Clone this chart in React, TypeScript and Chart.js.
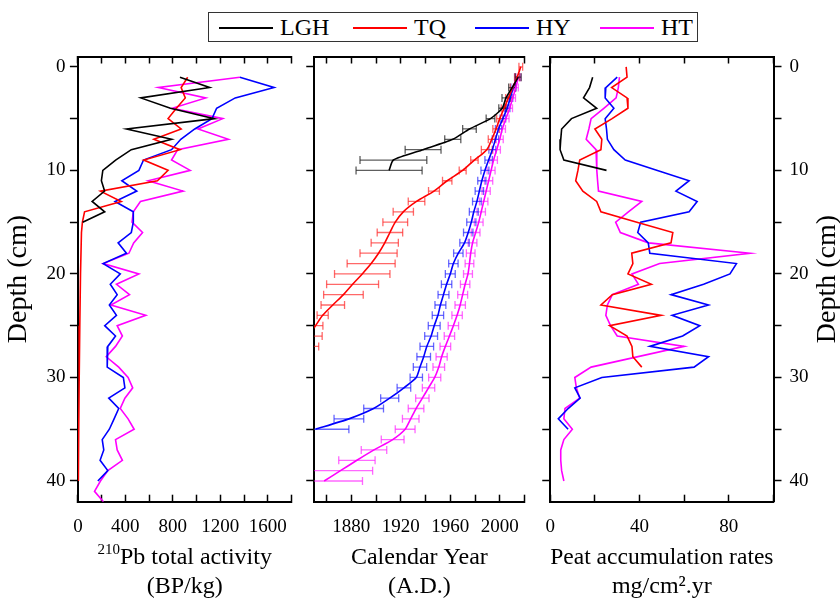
import React, { useEffect, useRef } from 'react';
import { Chart, registerables } from 'chart.js';

Chart.register(...registerables);
const FONT_FAMILY = '"Liberation Serif", "Times New Roman", serif';
Chart.defaults.font.family = FONT_FAMILY;
Chart.defaults.color = '#000';

// ---------- series ----------
const SERIES_NAMES = ['LGH', 'TQ', 'HY', 'HT'];
const SERIES_COLORS = ['#000000', '#ff0000', '#0000ff', '#ff00ff'];
const ERROR_COLORS = ['rgba(40,40,40,0.75)', 'rgba(255,40,40,0.7)', 'rgba(40,40,255,0.7)', 'rgba(255,40,255,0.7)'];

// ---------- depth axis ----------
const DEPTH_MIN = -1;
const DEPTH_MAX = 42;
const DEPTH_TICKS = [0, 5, 10, 15, 20, 25, 30, 35, 40];
const DEPTH_LABELS = [0, 10, 20, 30, 40];
const DEPTH_TITLE = 'Depth (cm)';

// ---------- panel 1 : 210Pb total activity ----------
const PB_MIN = 0;
const PB_MAX = 1800;
const PB_TICKS = [0, 200, 400, 600, 800, 1000, 1200, 1400, 1600, 1800];
const PB_LABELS = [0, 400, 800, 1200, 1600];
const PB_TITLE_SUP = '210';
const PB_TITLE_MAIN = 'Pb total activity';
const PB_TITLE_UNIT = '(BP/kg)';

const PB_LGH_DEPTH = [1, 2, 3, 4, 5, 6, 7, 8, 9, 10, 11, 12, 13, 14, 15];
const PB_LGH = [860, 1110, 530, 780, 1150, 410, 790, 450, 318, 210, 198, 225, 120, 226, 40];
const PB_TQ_DEPTH = [1, 2, 3, 4, 5, 6, 7, 8, 9, 10, 11, 12, 13, 14, 15, 16, 20, 25, 30, 35, 40];
const PB_TQ = [925, 870, 905, 830, 760, 870, 640, 860, 555, 760, 670, 190, 365, 56, 38, 30, 22, 16, 11, 7, 4];
const PB_HY_DEPTH = [1, 2, 3, 4, 5, 6, 7, 8, 9, 10, 11, 12, 13, 14, 15, 16, 17, 18, 19, 20, 21, 22, 23, 24, 25, 26, 27, 28, 29, 30, 31, 32, 33, 34, 35, 36, 37, 38, 39, 40];
const PB_HY = [1365, 1653, 1326, 1169, 1130, 985, 867, 789, 553, 514, 370, 496, 313, 467, 467, 450, 339, 409, 213, 357, 273, 331, 265, 325, 226, 317, 252, 247, 247, 383, 396, 260, 344, 305, 265, 205, 218, 187, 252, 168];
const PB_HT_DEPTH = [1, 2, 3, 4, 5, 6, 7, 8, 9, 10, 11, 12, 13, 14, 15, 16, 17, 18, 19, 20, 21, 22, 23, 24, 25, 26, 27, 28, 29, 30, 31, 32, 33, 34, 35, 36, 37, 38, 39, 40, 41, 42];
const PB_HT = [1365, 679, 1077, 794, 1221, 1012, 1268, 841, 789, 946, 592, 886, 527, 467, 456, 545, 470, 430, 213, 514, 325, 435, 278, 572, 331, 375, 317, 239, 344, 423, 462, 396, 357, 423, 474, 317, 331, 375, 252, 190, 140, 215];

// ---------- panel 2 : calendar year ----------
const YR_MIN = 1850;
const YR_MAX = 2020;
const YR_TICKS = [1860, 1880, 1900, 1920, 1940, 1960, 1980, 2000, 2020];
const YR_LABELS = [1880, 1920, 1960, 2000];
const YR_TITLE = ['Calendar Year', '(A.D.)'];

const YR_LGH_DEPTH = [1, 2, 3, 4, 5, 6, 7, 8, 9, 10];
const YR_LGH = [2015, 2010, 2005, 2002, 1992.5, 1975.5, 1962, 1938, 1914, 1910.5];
const YR_LGH_ERR = [2.3, 2.8, 3.2, 2.8, 3.5, 5.5, 6.5, 14.5, 27, 26.7];
const YR_TQ_DEPTH = [0, 1, 2, 3, 4, 5, 6, 7, 8, 9, 10, 11, 12, 13, 14, 15, 16, 17, 18, 19, 20, 21, 22, 23, 24, 25, 26, 27];
const YR_TQ = [2017, 2014, 2010.5, 2007, 2003.5, 2000, 1997, 1993.5, 1989.5, 1979.5, 1970, 1957.5, 1946.8, 1932.7, 1922, 1915.5, 1911.2, 1907, 1902, 1896, 1888.8, 1881, 1873.6, 1865, 1856.8, 1851, 1845, 1840];
const YR_TQ_ERR = [1.5, 2, 2, 2.2, 2.3, 2.5, 2.6, 2.8, 4.4, 3, 2.8, 3.8, 4.4, 6.7, 8.2, 10, 10.3, 11, 15, 19.4, 22.4, 21, 16, 9.5, 4.5, 6, 11.4, 13.6];
const YR_HY_DEPTH = [1, 2, 3, 4, 5, 6, 7, 8, 9, 10, 11, 12, 13, 14, 15, 16, 17, 18, 19, 20, 21, 22, 23, 24, 25, 26, 27, 28, 29, 30, 31, 32, 33, 34, 35];
const YR_HY = [2014, 2011, 2008.5, 2006, 2002.5, 1999, 1996.5, 1994, 1991, 1988, 1985.5, 1983.5, 1981.5, 1979, 1977, 1974.5, 1971.5, 1966.5, 1962.5, 1960, 1957, 1954.5, 1952, 1950, 1947, 1944.5, 1941, 1938.5, 1935.5, 1932.5, 1922.5, 1911, 1898, 1878, 1851];
const YR_HY_ERR = [2, 2, 2, 2.2, 2.3, 2.5, 2.6, 2.8, 3, 3.2, 3.3, 3.4, 3.5, 3.6, 3.7, 3.8, 3.8, 3.8, 3.8, 4, 4.2, 4.4, 4.4, 4.6, 4.8, 5.2, 5.5, 5.5, 5.4, 5, 5.5, 7.3, 8, 12, 27];
const YR_HT_DEPTH = [1, 2, 3, 4, 5, 6, 7, 8, 9, 10, 11, 12, 13, 14, 15, 16, 17, 18, 19, 20, 21, 22, 23, 24, 25, 26, 27, 28, 29, 30, 31, 32, 33, 34, 35, 36, 37, 38, 39, 40];
const YR_HT = [2015, 2013, 2010.5, 2008, 2005, 2002, 2000, 1997.5, 1995, 1993, 1991, 1989, 1987, 1985, 1983, 1980.5, 1978, 1976.5, 1975.5, 1974.3, 1972, 1970, 1968, 1965.5, 1962.5, 1959.3, 1956, 1953, 1950.7, 1947.4, 1942.4, 1937.4, 1932.3, 1928, 1923.5, 1913.4, 1898.3, 1884.5, 1871.2, 1858];
const YR_HT_ERR = [2, 2, 2.2, 2.3, 2.5, 2.6, 2.8, 3, 3.1, 3.2, 3.3, 3.3, 3.4, 3.4, 3.5, 3.5, 3.5, 3.5, 3.5, 3.6, 3.8, 4, 4.2, 4.2, 4.2, 4.2, 4.3, 4.5, 4.7, 4.9, 5, 5.4, 6.3, 6.7, 8, 9.2, 10.3, 14.7, 26, 31];

// ---------- panel 3 : peat accumulation rates ----------
const RATE_MIN = 0;
const RATE_MAX = 100;
const RATE_TICKS = [0, 20, 40, 60, 80, 100];
const RATE_LABELS = [0, 40, 80];
const RATE_TITLE = ['Peat accumulation rates', 'mg/cm\u00B2.yr'];

const RATE_LGH_DEPTH = [1, 2, 3, 4, 5, 6, 7, 8, 9, 10];
const RATE_LGH = [19, 17.6, 14.9, 20.8, 9.5, 5.1, 4.7, 4.4, 6.1, 25.2];
const RATE_TQ_DEPTH = [0, 1, 2, 3, 4, 5, 6, 7, 8, 9, 10, 11, 12, 13, 14, 15, 16, 17, 18, 19, 20, 21, 22, 23, 24, 25, 26, 27, 28, 29];
const RATE_TQ = [34, 34.4, 27.5, 34.4, 34.8, 27.7, 20, 23.1, 22.7, 13.2, 12.4, 11.4, 14.6, 20.8, 22.7, 38.8, 54.9, 54.1, 36.5, 37, 34.8, 45.3, 27.8, 22.7, 49.7, 26.6, 34.4, 36.6, 37, 41];
const RATE_HY_DEPTH = [1, 2, 3, 4, 5, 6, 7, 8, 9, 10, 11, 12, 13, 14, 15, 16, 17, 18, 19, 20, 21, 22, 23, 24, 25, 26, 27, 28, 29, 30, 31, 32, 33, 34, 35];
const RATE_HY = [30, 24.9, 24.6, 28.5, 24.6, 25.2, 25.6, 28.5, 33.6, 48, 62.2, 56.3, 65.8, 62.2, 40.5, 39.2, 43.9, 44.6, 83.4, 80.5, 68.7, 54.1, 70.9, 54.6, 67, 59.3, 44.6, 70.9, 64.4, 23.1, 11, 13.4, 8, 3.6, 8];
const RATE_HT_DEPTH = [1, 2, 3, 4, 5, 6, 7, 8, 9, 10, 11, 12, 13, 14, 15, 16, 17, 18, 19, 20, 21, 22, 23, 24, 25, 26, 27, 29, 30, 31, 32, 33, 34, 35, 36, 37, 38, 39, 40];
const RATE_HT = [31, 30.5, 29.5, 24, 18.3, 17.3, 16.1, 20.5, 20.8, 20.9, 21.2, 21.6, 41, 35, 29.3, 31.4, 44, 89.5, 49, 36.6, 39.5, 27.8, 25.6, 24.9, 27, 30, 60, 18.3, 11, 11.7, 13.2, 6.6, 6.1, 9.9, 6.1, 4.7, 4.7, 5.1, 6.1];

// ---------- layout (pixels) ----------
const CANVAS_H = 601;
const PLOT_TOP = 56.5;
const PLOT_BOTTOM = 501.7;
const BOTTOM_AXIS_H = CANVAS_H - PLOT_BOTTOM;
const TITLE_SIZE = 24;
const TITLE_LINE_H = 28.8;
const TICK_SIZE = 19;

type Pt = { x: number | null; y: number | null };
const toPoints = (depths: number[], vals: number[]): Pt[] => depths.map((d, i) => ({ x: vals[i], y: d }));
const toErrorBars = (depths: number[], vals: number[], errs: number[]): Pt[] =>
  depths.flatMap((d, i) => [
    { x: vals[i] - errs[i], y: d },
    { x: vals[i] + errs[i], y: d },
    { x: null, y: null },
  ]);

const lineDataset = (i: number, data: Pt[], tension = 0) => ({
  label: SERIES_NAMES[i],
  data,
  showLine: true,
  borderColor: SERIES_COLORS[i],
  backgroundColor: SERIES_COLORS[i],
  borderWidth: 1.6,
  pointRadius: 0,
  pointHoverRadius: 0,
  tension,
});

const errorDataset = (i: number, data: Pt[]) => ({
  label: SERIES_NAMES[i] + ' error',
  data,
  showLine: true,
  spanGaps: false,
  borderColor: ERROR_COLORS[i],
  backgroundColor: ERROR_COLORS[i],
  borderWidth: 1.3,
  pointStyle: 'line',
  pointRotation: 90,
  pointRadius: 4,
  pointHoverRadius: 4,
  pointBorderColor: ERROR_COLORS[i],
  pointBorderWidth: 1.3,
});

// rotated title on the right-hand depth axis (reads bottom to top)
const sideTitlePlugin = {
  id: 'sideTitle',
  afterDraw(chart: any, _args: any, opts: any) {
    if (!opts || !opts.text) return;
    const scale = chart.scales[opts.axis];
    if (!scale) return;
    const ctx = chart.ctx;
    ctx.save();
    ctx.font = `${opts.size}px ${FONT_FAMILY}`;
    ctx.fillStyle = '#000';
    ctx.textAlign = 'center';
    ctx.textBaseline = 'middle';
    ctx.translate(scale.right - opts.offset, (scale.top + scale.bottom) / 2);
    ctx.rotate(-Math.PI / 2);
    ctx.fillText(opts.text, 0, 0);
    ctx.restore();
  },
};

// x-axis title with a superscript part (e.g. 210Pb)
const richTitlePlugin = {
  id: 'richTitle',
  afterDraw(chart: any, _args: any, opts: any) {
    if (!opts || !opts.lines) return;
    const scale = chart.scales.x;
    const ctx = chart.ctx;
    const cx = (scale.left + scale.right) / 2;
    const fontFor = (sup: boolean) => `${sup ? opts.supSize : opts.size}px ${FONT_FAMILY}`;
    ctx.save();
    ctx.fillStyle = '#000';
    ctx.textBaseline = 'middle';
    ctx.textAlign = 'left';
    opts.lines.forEach((segs: any[], li: number) => {
      const y = scale.bottom - TITLE_LINE_H / 2 - (opts.lines.length - 1 - li) * TITLE_LINE_H;
      let total = 0;
      segs.forEach((s) => {
        ctx.font = fontFor(!!s.sup);
        total += ctx.measureText(s.text).width;
      });
      let x = cx - total / 2;
      segs.forEach((s) => {
        ctx.font = fontFor(!!s.sup);
        ctx.fillText(s.text, x, s.sup ? y - opts.supRaise : y);
        x += ctx.measureText(s.text).width;
      });
    });
    ctx.restore();
  },
};

interface PanelSpec {
  xMin: number;
  xMax: number;
  xTicks: number[];
  xLabels: number[];
  xTitle?: string[];
  richTitle?: any[];
  yAxisWidth: number;
  padRight: number;
  showDepthLabels: boolean;
  depthTitle?: string;
  rightAxisWidth?: number;
  rightTitle?: string;
  datasets: any[];
}

const BORDER = { display: true, color: '#000', width: 2 };

function buildConfig(spec: PanelSpec): any {
  const setTicks = (vals: number[]) => (s: any) => {
    s.ticks = vals.map((value) => ({ value }));
  };
  const labelCb = (labels: number[]) => (v: any) => (labels.includes(Number(v)) ? String(v) : '');

  const scales: any = {
    x: {
      type: 'linear',
      position: 'bottom',
      min: spec.xMin,
      max: spec.xMax,
      afterBuildTicks: setTicks(spec.xTicks),
      afterFit: (s: any) => {
        s.height = BOTTOM_AXIS_H;
      },
      grid: { drawOnChartArea: false, drawTicks: true, tickLength: -7, tickWidth: 1.5, tickColor: '#000' },
      border: BORDER,
      ticks: {
        autoSkip: false,
        maxRotation: 0,
        minRotation: 0,
        padding: 20.5,
        font: { size: TICK_SIZE },
        color: '#000',
        callback: labelCb(spec.xLabels),
      },
      title: spec.xTitle
        ? { display: true, text: spec.xTitle, font: { size: TITLE_SIZE, lineHeight: TITLE_LINE_H / TITLE_SIZE }, padding: 0, color: '#000' }
        : { display: false },
    },
    xTop: {
      type: 'linear',
      position: 'top',
      min: spec.xMin,
      max: spec.xMax,
      afterBuildTicks: setTicks(spec.xTicks),
      afterFit: (s: any) => {
        s.height = 0;
      },
      grid: { drawOnChartArea: false, drawTicks: true, tickLength: -7, tickWidth: 1.5, tickColor: '#000' },
      border: BORDER,
      ticks: { display: false },
    },
    y: {
      type: 'linear',
      position: 'left',
      reverse: true,
      min: DEPTH_MIN,
      max: DEPTH_MAX,
      afterBuildTicks: setTicks(DEPTH_TICKS),
      afterFit: (s: any) => {
        s.width = spec.yAxisWidth;
      },
      grid: { drawOnChartArea: false, drawTicks: true, tickLength: 8, tickWidth: 1.5, tickColor: '#000' },
      border: BORDER,
      ticks: {
        display: spec.showDepthLabels,
        autoSkip: false,
        padding: 4.5,
        font: { size: TICK_SIZE },
        color: '#000',
        callback: labelCb(DEPTH_LABELS),
      },
      title: spec.depthTitle
        ? { display: true, text: spec.depthTitle, font: { size: 28, lineHeight: 1.2 }, padding: { top: 2, bottom: 0 }, color: '#000' }
        : { display: false },
    },
  };
  if (spec.rightAxisWidth) {
    scales.yRight = {
      type: 'linear',
      position: 'right',
      reverse: true,
      min: DEPTH_MIN,
      max: DEPTH_MAX,
      afterBuildTicks: setTicks(DEPTH_TICKS),
      afterFit: (s: any) => {
        s.width = spec.rightAxisWidth;
      },
      grid: { drawOnChartArea: false, drawTicks: true, tickLength: 8, tickWidth: 1.5, tickColor: '#000' },
      border: BORDER,
      ticks: { autoSkip: false, padding: 8, font: { size: TICK_SIZE }, color: '#000', callback: labelCb(DEPTH_LABELS) },
    };
  }
  return {
    type: 'scatter',
    data: { datasets: spec.datasets },
    options: {
      responsive: false,
      maintainAspectRatio: false,
      animation: false,
      events: [],
      layout: { padding: { top: PLOT_TOP, left: 0, right: spec.padRight, bottom: 0 } },
      plugins: {
        legend: { display: false },
        tooltip: { enabled: false },
        sideTitle: spec.rightTitle ? { text: spec.rightTitle, axis: 'yRight', size: 28, offset: 12 } : {},
        richTitle: spec.richTitle ? { lines: spec.richTitle, size: TITLE_SIZE, supSize: 15, supRaise: 8 } : {},
      },
      scales,
    },
    plugins: [sideTitlePlugin, richTitlePlugin],
  };
}

const PANELS: { left: number; width: number; spec: PanelSpec }[] = [
  {
    left: 0,
    width: 312,
    spec: {
      xMin: PB_MIN,
      xMax: PB_MAX,
      xTicks: PB_TICKS,
      xLabels: PB_LABELS,
      richTitle: [
        [{ text: PB_TITLE_SUP, sup: true }, { text: PB_TITLE_MAIN }],
        [{ text: PB_TITLE_UNIT }],
      ],
      yAxisWidth: 77.9,
      padRight: 5,
      showDepthLabels: true,
      depthTitle: DEPTH_TITLE,
      datasets: [
        lineDataset(0, toPoints(PB_LGH_DEPTH, PB_LGH)),
        lineDataset(1, toPoints(PB_TQ_DEPTH, PB_TQ)),
        lineDataset(2, toPoints(PB_HY_DEPTH, PB_HY)),
        lineDataset(3, toPoints(PB_HT_DEPTH, PB_HT)),
      ],
    },
  },
  {
    left: 290,
    width: 255,
    spec: {
      xMin: YR_MIN,
      xMax: YR_MAX,
      xTicks: YR_TICKS,
      xLabels: YR_LABELS,
      xTitle: YR_TITLE,
      yAxisWidth: 24.25,
      padRight: 5.5,
      showDepthLabels: false,
      datasets: [
        lineDataset(0, toPoints(YR_LGH_DEPTH, YR_LGH), 0.2),
        lineDataset(1, toPoints(YR_TQ_DEPTH, YR_TQ), 0.3),
        lineDataset(2, toPoints(YR_HY_DEPTH, YR_HY), 0.2),
        lineDataset(3, toPoints(YR_HT_DEPTH, YR_HT), 0.2),
        errorDataset(0, toErrorBars(YR_LGH_DEPTH, YR_LGH, YR_LGH_ERR)),
        errorDataset(1, toErrorBars(YR_TQ_DEPTH, YR_TQ, YR_TQ_ERR)),
        errorDataset(2, toErrorBars(YR_HY_DEPTH, YR_HY, YR_HY_ERR)),
        errorDataset(3, toErrorBars(YR_HT_DEPTH, YR_HT, YR_HT_ERR)),
      ],
    },
  },
  {
    left: 525,
    width: 315,
    spec: {
      xMin: RATE_MIN,
      xMax: RATE_MAX,
      xTicks: RATE_TICKS,
      xLabels: RATE_LABELS,
      xTitle: RATE_TITLE,
      yAxisWidth: 21.7,
      padRight: 0,
      showDepthLabels: false,
      rightAxisWidth: 66.5,
      rightTitle: DEPTH_TITLE,
      datasets: [
        lineDataset(0, toPoints(RATE_LGH_DEPTH, RATE_LGH)),
        lineDataset(1, toPoints(RATE_TQ_DEPTH, RATE_TQ)),
        lineDataset(2, toPoints(RATE_HY_DEPTH, RATE_HY)),
        lineDataset(3, toPoints(RATE_HT_DEPTH, RATE_HT)),
      ],
    },
  },
];

function Panel({ left, width, spec }: { left: number; width: number; spec: PanelSpec }) {
  const ref = useRef<HTMLCanvasElement>(null);
  useEffect(() => {
    if (!ref.current) return;
    const chart = new Chart(ref.current, buildConfig(spec));
    return () => chart.destroy();
  }, []);
  return (
    <canvas
      ref={ref}
      width={width}
      height={CANVAS_H}
      style={{ position: 'absolute', left, top: 0, width, height: CANVAS_H, display: 'block' }}
    />
  );
}

const LEGEND_LINE_X = [11, 145, 267, 392];

function Legend() {
  return (
    <div
      style={{
        position: 'absolute',
        left: 208,
        top: 12,
        width: 490,
        height: 30,
        border: '1px solid #333',
        boxSizing: 'border-box',
        background: '#fff',
        fontFamily: FONT_FAMILY,
        fontSize: 24,
        color: '#000',
      }}
    >
      {SERIES_NAMES.map((name, i) => (
        <React.Fragment key={name}>
          <div
            style={{
              position: 'absolute',
              left: LEGEND_LINE_X[i] - 1,
              top: 14,
              width: 54,
              height: 0,
              borderTop: `2px solid ${SERIES_COLORS[i]}`,
            }}
          />
          <span
            style={{
              position: 'absolute',
              left: LEGEND_LINE_X[i] + 60,
              top: 0,
              lineHeight: '28px',
              whiteSpace: 'nowrap',
            }}
          >
            {name}
          </span>
        </React.Fragment>
      ))}
    </div>
  );
}

export default function App() {
  return (
    <div
      style={{
        position: 'absolute',
        left: 0,
        top: 0,
        width: 840,
        height: 598,
        overflow: 'hidden',
        background: '#fff',
      }}
    >
      {PANELS.map((p, i) => (
        <Panel key={i} left={p.left} width={p.width} spec={p.spec} />
      ))}
      <Legend />
    </div>
  );
}
